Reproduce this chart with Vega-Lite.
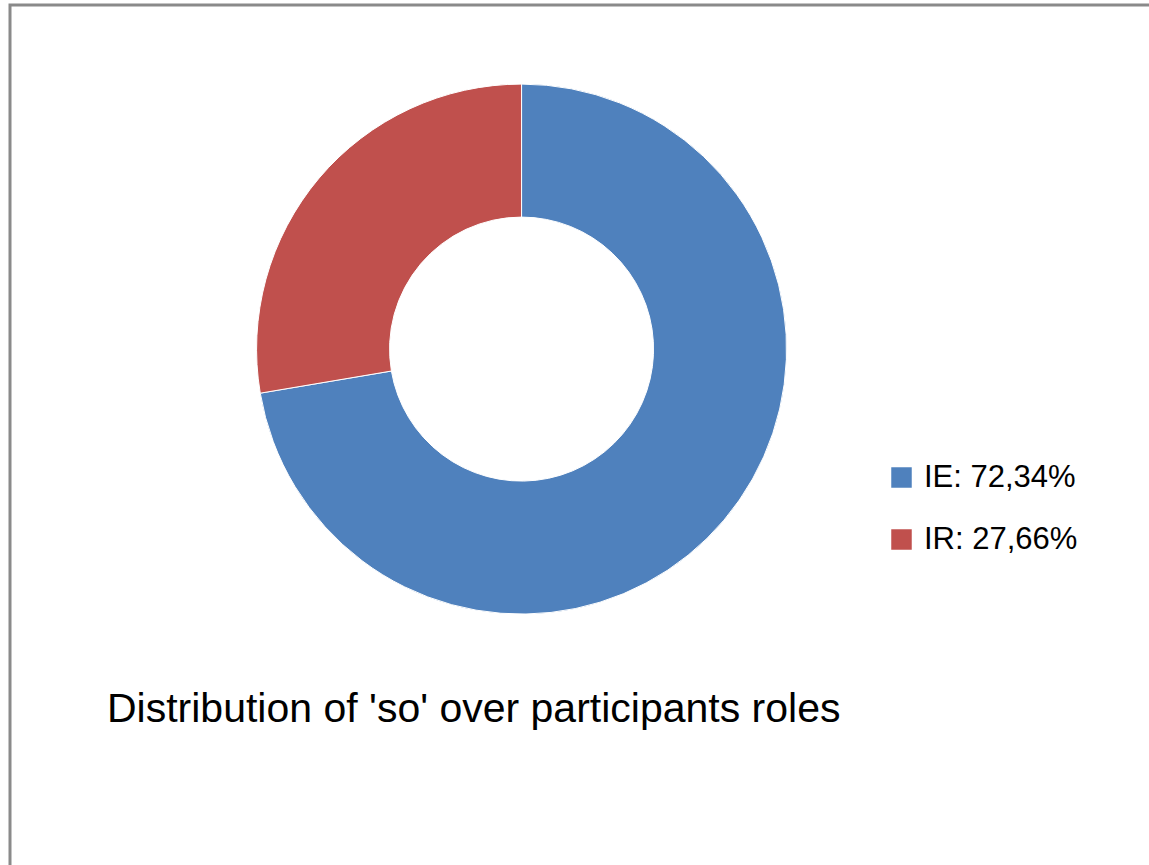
{
  "$schema": "https://vega.github.io/schema/vega-lite/v6.json",
  "autosize": "none",
  "padding": {"left": 10, "top": 5, "right": 0, "bottom": 0},
  "width": 1160,
  "height": 880,
  "background": "white",
  "config": {
    "view": {"stroke": "#8a8a8a", "strokeWidth": 3},
    "font": "Liberation Sans"
  },
  "title": {
    "text": "Distribution of 'so' over participants roles",
    "orient": "top",
    "anchor": "start",
    "frame": "group",
    "offset": 0,
    "baseline": "alphabetic",
    "dx": 97,
    "dy": 758,
    "font": "Liberation Sans",
    "fontSize": 41,
    "fontWeight": "normal",
    "color": "#000000"
  },
  "data": {
    "values": [
      {"role": "IE: 72,34%", "share": 72.34, "cx": 0.441, "cy": 0.609},
      {"role": "IR: 27,66%", "share": 27.66, "cx": 0.441, "cy": 0.609}
    ]
  },
  "mark": {"type": "arc", "outerRadius": 265, "innerRadius": 132, "stroke": "white", "strokeWidth": 1},
  "encoding": {
    "theta": {"field": "share", "type": "quantitative", "stack": true},
    "order": {"field": "share", "type": "quantitative", "sort": "descending"},
    "x": {"field": "cx", "type": "quantitative", "scale": {"domain": [0, 1], "zero": false, "nice": false}, "axis": null},
    "y": {"field": "cy", "type": "quantitative", "scale": {"domain": [0, 1], "zero": false, "nice": false}, "axis": null},
    "color": {
      "field": "role",
      "type": "nominal",
      "scale": {"domain": ["IE: 72,34%", "IR: 27,66%"], "range": ["#4f81bd", "#c0504d"]},
      "legend": {
        "title": null,
        "orient": "none",
        "legendX": 876,
        "legendY": 457,
        "symbolType": "square",
        "symbolSize": 420,
        "symbolStrokeWidth": 0,
        "labelFont": "Liberation Sans",
        "labelFontSize": 31,
        "labelColor": "#000000",
        "labelOffset": 7,
        "rowPadding": 30
      }
    }
  }
}
